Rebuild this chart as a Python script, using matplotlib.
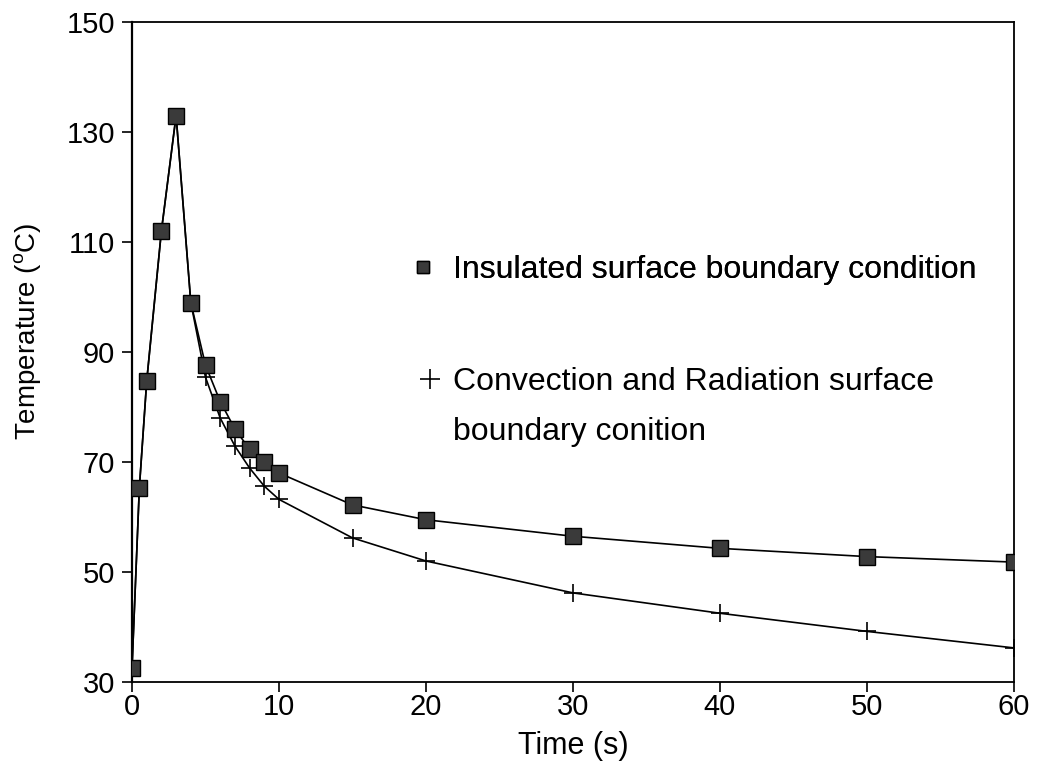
import matplotlib
matplotlib.use('Agg')
import matplotlib.pyplot as plt
from matplotlib.lines import Line2D

plt.rcParams['font.family'] = ['Liberation Sans', 'DejaVu Sans']
plt.rcParams['mathtext.fontset'] = 'custom'
plt.rcParams['mathtext.rm'] = 'Liberation Sans'

# Insulated surface boundary condition (squares)
time_ins = [0, 0.5, 1, 2, 3, 4, 5, 6, 7, 8, 9, 10, 15, 20, 30, 40, 50, 60]
temp_ins = [32.5, 65.3, 84.7, 112, 133, 99, 87.6, 81, 76, 72.3, 70, 68, 62.2, 59.5, 56.5, 54.3, 52.8, 51.8]

# Convection and radiation surface boundary condition (crosses)
time_conv = [0, 0.5, 1, 2, 3, 4, 5, 6, 7, 8, 9, 10, 15, 20, 30, 40, 50, 60]
temp_conv = [32.5, 65.3, 84.7, 112, 133, 99, 85.4, 78, 72.9, 68.9, 65.6, 63.2, 56.2, 52.0, 46.2, 42.5, 39.2, 36.2]
first_cross = 6  # crosses are drawn from t=5 on

xticks = [0, 10, 20, 30, 40, 50, 60]
yticks = [30, 50, 70, 90, 110, 130, 150]

fig = plt.figure(figsize=(10.38, 7.67), dpi=100)
ax = fig.add_axes([132/1038, 1 - 682/767, (1014-132)/1038, (682-22)/767])

ax.plot(time_conv, temp_conv, color='black', lw=1.2, marker='+', ms=13, mew=1.2,
        markevery=list(range(first_cross, len(time_conv))), zorder=2)
ax.plot(time_ins, temp_ins, color='black', lw=1.2, marker='s', ms=11,
        mfc='#3a3a3a', mec='black', mew=1.0, zorder=3)

ax.set_xlim(0, 60)
ax.set_ylim(30, 150)
ax.set_xticks(xticks)
ax.set_yticks(yticks)
ax.tick_params(direction='out', length=7, width=1.2, labelsize=21,
               top=False, right=False)
ax.tick_params(axis='x', pad=1)
ax.tick_params(axis='y', pad=5)
for s in ['left', 'bottom', 'top', 'right']:
    ax.spines[s].set_linewidth(1.3)
ax.spines['left'].set_linewidth(1.6)

ax.set_xlabel('Time (s)', fontsize=22, labelpad=7)
ax.set_ylabel(r'Temperature ($^\mathregular{o}$C)', fontsize=20)
ax.yaxis.set_label_coords(-0.1, 0.532)

h1 = Line2D([], [], ls='none', marker='s', ms=8, mfc='#3a3a3a', mec='black')
leg1 = fig.legend([h1], ['Insulated surface boundary condition'], loc='center left',
                  bbox_to_anchor=(407/1038, 1 - 270/767), frameon=False, fontsize=23,
                  borderpad=0, borderaxespad=0, handlelength=1.0, handletextpad=0.44)
fig.add_artist(leg1)

h2 = Line2D([], [], ls='none', marker='+', ms=15, mew=1.2, color='black')
h3 = Line2D([], [], ls='none')
fig.legend([h2, h3], ['Convection and Radiation surface', 'boundary conition'],
           loc='center left', bbox_to_anchor=(422/1038, 1 - 407/767), frameon=False,
           fontsize=23, borderpad=0, borderaxespad=0, handlelength=0.5,
           handletextpad=0.47, labelspacing=0.63)

fig.savefig('out.png', dpi=100)
